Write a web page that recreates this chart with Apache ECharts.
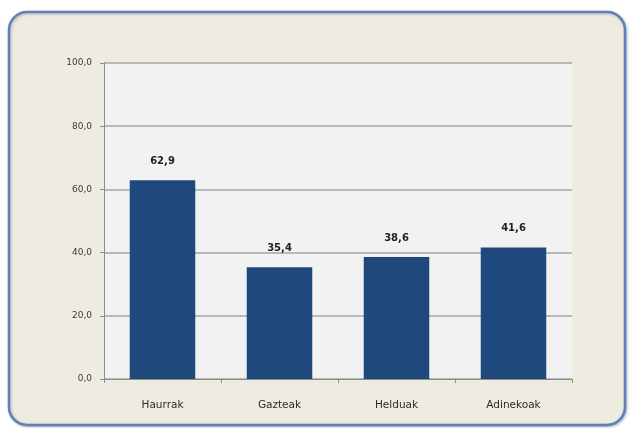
<!DOCTYPE html>
<html><head><meta charset="utf-8">
<script src="https://cdn.jsdelivr.net/npm/echarts@6/dist/echarts.min.js"></script>
<style>html,body{margin:0;padding:0;background:#fff}#c{width:632px;height:428px}</style>
</head><body><div id="c"></div>
<script>
const categories = ['Haurrak', 'Gazteak', 'Helduak', 'Adinekoak'];
const values = [62.9, 35.4, 38.6, 41.6];
const yTicks = [0, 20, 40, 60, 80, 100];

const chart = echarts.init(document.getElementById('c'), null, {renderer: 'canvas'});
const fmt = v => v.toFixed(1).replace('.', ',');
chart.setOption({
  backgroundColor: '#ffffff',
  animation: false,
  graphic: [{
    type: 'rect', z: -10, silent: true,
    shape: {x: 9, y: 12, width: 616, height: 413, r: 18},
    style: {fill: '#EEECE1', stroke: '#5E80B4', lineWidth: 2.5,
      shadowColor: 'rgba(60,80,120,0.35)', shadowBlur: 3, shadowOffsetX: 1, shadowOffsetY: 1}
  }],
  grid: {left: 104, right: 60, top: 63, bottom: 49, show: true, backgroundColor: '#F2F2F2', borderWidth: 0},
  xAxis: {
    type: 'category', data: categories,
    axisLine: {lineStyle: {color: '#8C8C8C', width: 1}},
    axisTick: {show: true, alignWithLabel: false, length: 4, lineStyle: {color: '#8C8C8C'}},
    axisLabel: {color: '#2a2a2a', fontFamily: 'DejaVu Sans', fontSize: 10.5, margin: 21}
  },
  yAxis: {
    type: 'value', min: yTicks[0], max: yTicks[yTicks.length - 1], interval: 20,
    axisLine: {show: true, lineStyle: {color: '#8C8C8C'}},
    axisTick: {show: true, length: 4, lineStyle: {color: '#8C8C8C'}},
    splitLine: {lineStyle: {color: '#A6A6A6', width: 1.5}},
    axisLabel: {color: '#3a3a3a', fontFamily: 'DejaVu Sans', fontSize: 9, margin: 12, formatter: v => fmt(v)}
  },
  series: [{
    type: 'bar', data: values, barWidth: '56%',
    itemStyle: {color: '#1F497D'},
    label: {show: true, position: 'top', distance: 14, color: '#222', fontFamily: 'DejaVu Sans', fontWeight: 'bold', fontSize: 10, formatter: p => fmt(p.value)}
  }]
});
</script></body></html>
